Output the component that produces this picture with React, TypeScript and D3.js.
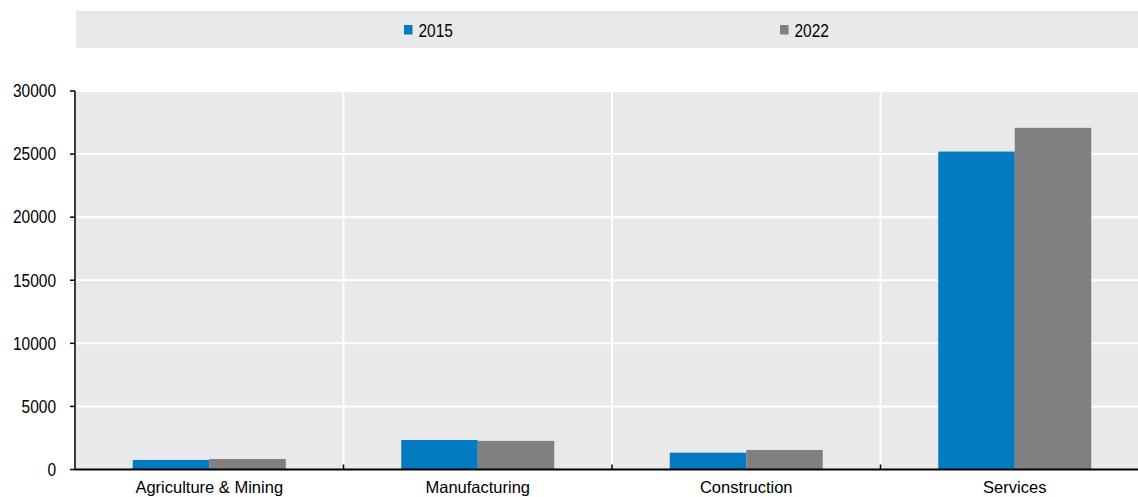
import React, { useEffect, useRef } from "react";
import * as d3 from "d3";

// chart data
const categories = ["Agriculture & Mining", "Manufacturing", "Construction", "Services"];
const seriesNames = ["2015", "2022"];
const values2015 = [760, 2340, 1330, 25200];
const values2022 = [830, 2270, 1550, 27080];
const yTicks = [0, 5000, 10000, 15000, 20000, 25000, 30000];

const colors = ["#037BC1", "#808080"];
const FONT = "'Liberation Sans', Arial, sans-serif";
const NARROW = 0.86; // fake a condensed face, no narrow font installed

const App: React.FC = () => {
  const svgRef = useRef<SVGSVGElement>(null);
  const width = 1138;
  const height = 497;

  useEffect(() => {
    if (!svgRef.current) return;
    const svg = d3.select(svgRef.current);
    svg.selectAll("*").remove();

    // plot area (right side runs a bit past the frame, like the original)
    const margin = { top: 91, left: 75, bottom: 27.5 };
    const plotRight = 1149;
    const plotW = plotRight - margin.left;
    const plotH = height - margin.top - margin.bottom;

    // legend band
    svg
      .append("rect")
      .attr("x", 76)
      .attr("y", 11)
      .attr("width", width - 76)
      .attr("height", 37)
      .attr("fill", "#E9E9E9");

    const legendX = [404, 780];
    seriesNames.forEach((name, i) => {
      svg
        .append("rect")
        .attr("x", legendX[i])
        .attr("y", 25)
        .attr("width", 8.5)
        .attr("height", 9.5)
        .attr("fill", colors[i]);
      svg
        .append("text")
        .attr("transform", `translate(${legendX[i] + 14.5}, 37) scale(${NARROW}, 1)`)
        .style("font-family", FONT)
        .style("font-size", "18px")
        .style("fill", "#000")
        .text(name);
    });

    const g = svg.append("g").attr("transform", `translate(${margin.left}, ${margin.top})`);

    const x0 = d3.scaleBand().domain(categories).range([0, plotW]).paddingInner(0).paddingOuter(0);
    const x1 = d3
      .scaleBand()
      .domain(seriesNames)
      .range([0, x0.bandwidth()])
      .paddingOuter(0.755)
      .paddingInner(0);
    const y = d3.scaleLinear().domain([0, 30000]).range([plotH, 0]);

    // background
    g.append("rect").attr("x", 0).attr("y", 0).attr("width", plotW).attr("height", plotH).attr("fill", "#E9E9E9");

    // horizontal gridlines
    g.selectAll(".hgrid")
      .data(yTicks.slice(1))
      .enter()
      .append("line")
      .attr("x1", 0)
      .attr("x2", plotW)
      .attr("y1", (d) => y(d))
      .attr("y2", (d) => y(d))
      .attr("stroke", "#fff")
      .attr("stroke-width", 2);

    // vertical gridlines at category boundaries
    const bounds = categories.slice(1).map((c) => x0(c) || 0);
    g.selectAll(".vgrid")
      .data(bounds)
      .enter()
      .append("line")
      .attr("x1", (d) => d)
      .attr("x2", (d) => d)
      .attr("y1", 0)
      .attr("y2", plotH)
      .attr("stroke", "#fff")
      .attr("stroke-width", 2);

    // bars
    const series = [values2015, values2022];
    categories.forEach((c, ci) => {
      series.forEach((vals, si) => {
        g.append("rect")
          .attr("x", (x0(c) || 0) + (x1(seriesNames[si]) || 0))
          .attr("y", y(vals[ci]))
          .attr("width", x1.bandwidth())
          .attr("height", plotH - y(vals[ci]))
          .attr("fill", colors[si]);
      });
    });

    // y axis
    g.append("line").attr("x1", 0).attr("x2", 0).attr("y1", 0).attr("y2", plotH).attr("stroke", "#000").attr("stroke-width", 1.5);
    yTicks.forEach((t) => {
      g.append("line").attr("x1", -5).attr("x2", 0).attr("y1", y(t)).attr("y2", y(t)).attr("stroke", "#000").attr("stroke-width", 1.5);
      g.append("text")
        .attr("transform", `translate(-19, ${y(t)}) scale(${NARROW}, 1)`)
        .attr("dy", "0.35em")
        .attr("text-anchor", "end")
        .style("font-family", FONT)
        .style("font-size", "18px")
        .style("fill", "#000")
        .text(t);
    });

    // x axis
    g.append("line").attr("x1", 0).attr("x2", plotW).attr("y1", plotH).attr("y2", plotH).attr("stroke", "#000").attr("stroke-width", 2);
    bounds.forEach((b) => {
      g.append("line").attr("x1", b).attr("x2", b).attr("y1", plotH - 5).attr("y2", plotH).attr("stroke", "#000").attr("stroke-width", 1.5);
    });
    categories.forEach((c) => {
      g.append("text")
        .attr("x", (x0(c) || 0) + x0.bandwidth() / 2)
        .attr("y", plotH + 23.5)
        .attr("text-anchor", "middle")
        .style("font-family", FONT)
        .style("font-size", "16.5px")
        .style("fill", "#000")
        .text(c);
    });
  }, []);

  return (
    <svg
      ref={svgRef}
      width={width}
      height={height}
      style={{ position: "absolute", left: 0, top: 0, background: "#fff", overflow: "hidden" }}
    />
  );
};

export default App;
